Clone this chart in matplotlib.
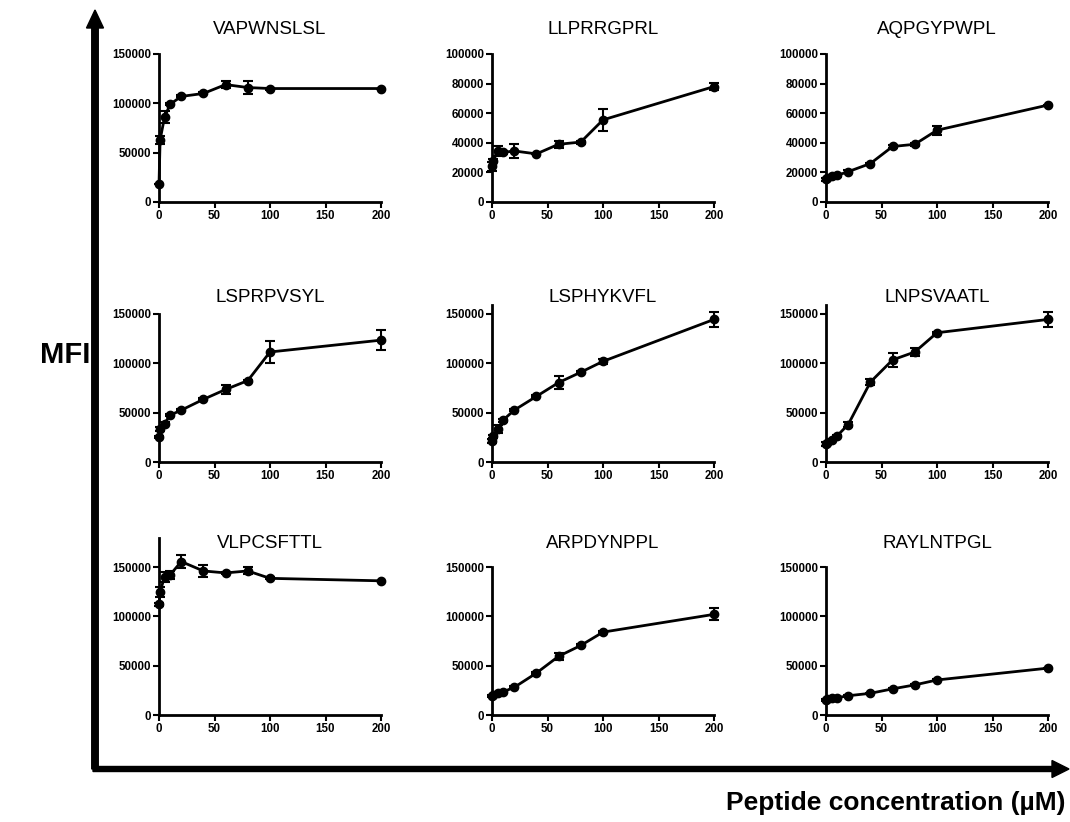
import numpy as np
import matplotlib
matplotlib.use("Agg")
import matplotlib.pyplot as plt

plt.rcParams['font.family'] = ['Liberation Sans', 'DejaVu Sans']

# Peptide concentration (uM)
conc = [0, 1, 5, 10, 20, 40, 60, 80, 100, 200]

peptides = ["VAPWNSLSL", "LLPRRGPRL", "AQPGYPWPL",
            "LSPRPVSYL", "LSPHYKVFL", "LNPSVAATL",
            "VLPCSFTTL", "ARPDYNPPL", "RAYLNTPGL"]

# mean MFI and error per peptide
mfi_vapwnslsl = [18000, 63000, 86000, 99000, 107000, 110000, 119000, 116000, 115000, 115000]
err_vapwnslsl = [0, 4000, 6000, 1000, 1000, 1000, 3500, 6500, 1000, 0]
mfi_llprrgprl = [24000, 28000, 34500, 33500, 34500, 32500, 39000, 40500, 55500, 78000]
err_llprrgprl = [3000, 1000, 3500, 1000, 4500, 0, 2500, 1000, 7500, 2500]
mfi_aqpgypwpl = [15500, 16500, 17500, 18000, 20500, 26000, 37500, 39000, 48500, 65500]
err_aqpgypwpl = [1000, 0, 1000, 1000, 1000, 500, 1000, 1000, 3000, 0]
mfi_lsprpvsyl = [25000, 33500, 39000, 47500, 52500, 63500, 73500, 82500, 111500, 123500]
err_lsprpvsyl = [1000, 2000, 1500, 1000, 1000, 1000, 4500, 1000, 11500, 10000]
mfi_lsphykvfl = [21000, 26000, 33500, 42500, 52500, 66500, 80500, 91000, 102000, 144500]
err_lsphykvfl = [2000, 1500, 4500, 1500, 1000, 1000, 6500, 1000, 2500, 8000]
mfi_lnpsvaatl = [18000, 19000, 22000, 26500, 38000, 81000, 103500, 111500, 131000, 144500]
err_lnpsvaatl = [2000, 1000, 1000, 1000, 3000, 3000, 7000, 4500, 1000, 7500]
mfi_vlpcsfttl = [112000, 125000, 140000, 142000, 155500, 146000, 144000, 146000, 138500, 136000]
err_vlpcsfttl = [2000, 5000, 5000, 4000, 7000, 6000, 1000, 3500, 1000, 0]
mfi_arpdynppl = [19000, 20000, 22500, 23500, 28000, 42500, 59500, 70500, 84000, 102000]
err_arpdynppl = [1000, 0, 1000, 1000, 1000, 1000, 3500, 1000, 1000, 6000]
mfi_raylntpgl = [15500, 16500, 17500, 17500, 19500, 22000, 26500, 30500, 35500, 47500]
err_raylntpgl = [1000, 0, 0, 500, 500, 500, 500, 500, 500, 0]

means = [mfi_vapwnslsl, mfi_llprrgprl, mfi_aqpgypwpl,
         mfi_lsprpvsyl, mfi_lsphykvfl, mfi_lnpsvaatl,
         mfi_vlpcsfttl, mfi_arpdynppl, mfi_raylntpgl]
errs = [err_vapwnslsl, err_llprrgprl, err_aqpgypwpl,
        err_lsprpvsyl, err_lsphykvfl, err_lnpsvaatl,
        err_vlpcsfttl, err_arpdynppl, err_raylntpgl]

y_max = [150000, 100000, 100000, 150000, 159000, 159000, 179000, 150000, 150000]
y_ticks = [[0, 50000, 100000, 150000],
           [0, 20000, 40000, 60000, 80000, 100000],
           [0, 20000, 40000, 60000, 80000, 100000],
           [0, 50000, 100000, 150000],
           [0, 50000, 100000, 150000],
           [0, 50000, 100000, 150000],
           [0, 50000, 100000, 150000],
           [0, 50000, 100000, 150000],
           [0, 50000, 100000, 150000]]
x_ticks = [0, 50, 100, 150, 200]

W, H = 1070, 822
fig = plt.figure(figsize=(W / 100, H / 100), dpi=100)

col_left = [159, 492, 826]
row_bottom = [202, 462, 715]
title_y = [30, 298, 543]
ax_w, ax_h = 222, 148

for i in range(9):
    r, c = divmod(i, 3)
    h_px = ax_h * y_max[i] / max(y_ticks[i])
    ax = fig.add_axes([col_left[c] / W, 1 - row_bottom[r] / H, ax_w / W, h_px / H])
    ax.errorbar(conc, means[i], yerr=errs[i], color='black', lw=2, marker='o',
                ms=6, capsize=3.5, capthick=1.5, elinewidth=1.5, clip_on=False)
    ax.set_xlim(0, 200)
    ax.set_ylim(0, y_max[i])
    ax.set_xticks(x_ticks)
    ax.set_yticks(y_ticks[i])
    for s in ['top', 'right']:
        ax.spines[s].set_visible(False)
    for s in ['left', 'bottom']:
        ax.spines[s].set_linewidth(2)
    ax.tick_params(width=1.5, length=4, labelsize=8.3, pad=1.5)
    for lab in ax.get_xticklabels() + ax.get_yticklabels():
        lab.set_fontweight('bold')
    fig.text((col_left[c] + ax_w / 2) / W, 1 - title_y[r] / H, peptides[i],
             fontsize=13.5, ha='center', va='center')

# big axis arrows
fig.add_artist(matplotlib.patches.FancyArrow(
    95 / W, 1 - 769 / H, 0, (769 - 28) / H, width=5 / H, head_width=17 / W,
    head_length=18 / H, length_includes_head=False, color='black',
    transform=fig.transFigure))
fig.add_artist(matplotlib.patches.FancyArrow(
    93 / W, 1 - 769 / H, (1052 - 93) / W, 0, width=5 / H, head_width=17 / H,
    head_length=17 / W, length_includes_head=False, color='black',
    transform=fig.transFigure))

fig.text(65 / W, 1 - 355 / H, "MFI", fontsize=21, fontweight='bold',
         ha='center', va='center')
fig.text(1066 / W, 1 - 803 / H, "Peptide concentration (µM)", fontsize=19,
         fontweight='bold', ha='right', va='center')

fig.savefig("out.png", dpi=100)
